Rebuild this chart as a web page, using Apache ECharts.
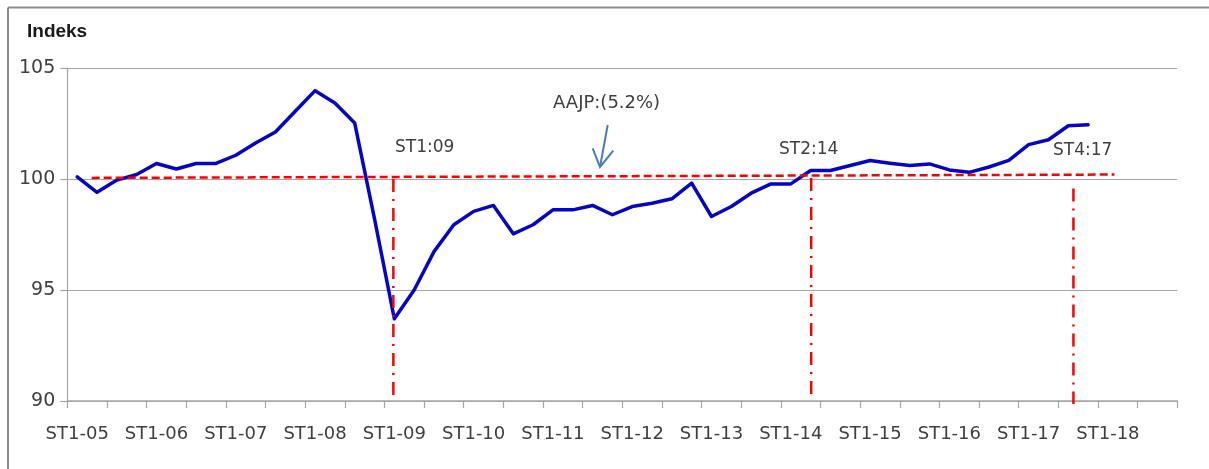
<!DOCTYPE html>
<html>
<head>
<meta charset="utf-8">
<script src="https://cdn.jsdelivr.net/npm/echarts@6/dist/echarts.min.js"></script>
<style>
  html, body { margin: 0; padding: 0; background: #ffffff; }
  #chart { width: 1209px; height: 469px; }
</style>
</head>
<body>
<div id="chart"></div>
<script>
// ---- data ----
const years = ['05','06','07','08','09','10','11','12','13','14','15','16','17','18'];
const quarters = ['ST1','ST2','ST3','ST4'];
const categories = [];
years.forEach(function (y) { quarters.forEach(function (q) { categories.push(q + '-' + y); }); });

// Index values, ST1-05 .. ST4-17
const indexValues = [
  100.1, 99.4, 99.95, 100.2, 100.7, 100.45, 100.7, 100.7, 101.07, 101.62, 102.12, 103.05,
  103.98, 103.42, 102.52, 98.2, 93.7, 95.0, 96.73, 97.94, 98.54, 98.81, 97.53, 97.94,
  98.61, 98.61, 98.81, 98.39, 98.76, 98.91, 99.11, 99.81, 98.31, 98.76, 99.36, 99.78,
  99.78, 100.38, 100.38, 100.61, 100.83, 100.71, 100.61, 100.68, 100.41, 100.3, 100.54, 100.84,
  101.55, 101.77, 102.4, 102.44
];

// y-axis ticks
const yMin = 90, yMax = 105, yStep = 5;

// annotation lines (category-index position, index value)
const refLine = [[0.73, 100.05], [52.33, 100.2]];
const vLineST109 = [[15.95, 100.0], [15.95, 90.13]];
const vLineST214 = [[37.03, 100.05], [37.03, 90.15]];
const vLineST417 = [[50.26, 99.57], [50.26, 89.87]];

const yTitle = 'Indeks';
const noteLabels = ['ST1:09', 'ST2:14', 'ST4:17', 'AAJP:(5.2%)'];

// ---- chart ----
const chart = echarts.init(document.getElementById('chart'), null, { renderer: 'canvas' });
const FONT = 'DejaVu Sans';
const TXT = '#404040';
const GRIDC = '#a6a6a6';
const RED = '#ff0000';
const dashDot = [13, 7, 2, 7];

function vSeries(data) {
  return {
    type: 'line', xAxisIndex: 1, yAxisIndex: 0, data: data,
    symbol: 'none', clip: false, silent: true, z: 5,
    lineStyle: { color: RED, width: 2.5, type: dashDot }
  };
}

chart.setOption({
  animation: false,
  backgroundColor: '#ffffff',
  grid: { left: 67.3, right: 31.7, top: 68, bottom: 68, containLabel: false },
  xAxis: [
    {
      type: 'category',
      data: categories,
      boundaryGap: true,
      axisLine: { show: true, onZero: false, lineStyle: { color: GRIDC, width: 1.5 } },
      axisTick: { show: true, interval: 1, length: 7, lineStyle: { color: GRIDC, width: 1.2 } },
      axisLabel: { interval: 3, margin: 24, color: TXT, fontFamily: FONT, fontSize: 18 },
      splitLine: { show: false }
    },
    {
      type: 'value', min: -0.5, max: 55.5, show: false
    }
  ],
  yAxis: {
    type: 'value', min: yMin, max: yMax, interval: yStep,
    axisLine: { show: true, onZero: false, lineStyle: { color: GRIDC, width: 1.2 } },
    axisTick: { show: true, length: 7, lineStyle: { color: GRIDC, width: 1.2 } },
    axisLabel: { margin: 12, color: TXT, fontFamily: FONT, fontSize: 19 },
    splitLine: { show: true, lineStyle: { color: GRIDC, width: 1.2 } }
  },
  series: [
    {
      type: 'line', data: indexValues, symbol: 'none', z: 3,
      lineStyle: { color: '#0505c8', width: 3.5, join: 'round', cap: 'round' }
    },
    {
      type: 'line', xAxisIndex: 1, yAxisIndex: 0, data: refLine,
      symbol: 'none', clip: false, silent: true, z: 5,
      lineStyle: { color: RED, width: 2.5, type: [8, 4] }
    },
    vSeries(vLineST109),
    vSeries(vLineST214),
    vSeries(vLineST417)
  ],
  graphic: [
    { type: 'line', shape: { x1: 8, y1: 7.5, x2: 1209, y2: 7.5 }, style: { stroke: '#8c8c8c', lineWidth: 2 } },
    { type: 'line', shape: { x1: 8, y1: 7.5, x2: 8, y2: 469 }, style: { stroke: '#8c8c8c', lineWidth: 2 } },
    { type: 'text', left: 27, top: 22, style: { text: yTitle, font: 'bold 19px "Liberation Sans"', fill: '#1a1a1a' } },
    { type: 'text', left: 395, top: 139, style: { text: noteLabels[0], font: '17px "DejaVu Sans"', fill: TXT } },
    { type: 'text', left: 779, top: 141, style: { text: noteLabels[1], font: '17px "DejaVu Sans"', fill: TXT } },
    { type: 'text', left: 1053, top: 142, style: { text: noteLabels[2], font: '17px "DejaVu Sans"', fill: TXT } },
    { type: 'text', left: 553, top: 94, style: { text: noteLabels[3], font: '18px "DejaVu Sans"', fill: TXT } },
    { type: 'polyline', shape: { points: [[607.7, 125], [600, 167]] }, style: { stroke: '#4a7ebb', lineWidth: 2, fill: null } },
    { type: 'polyline', shape: { points: [[592.7, 148.3], [600, 167], [613.3, 150.7]] }, style: { stroke: '#4a7ebb', lineWidth: 2, fill: null } }
  ]
});
</script>
</body>
</html>
